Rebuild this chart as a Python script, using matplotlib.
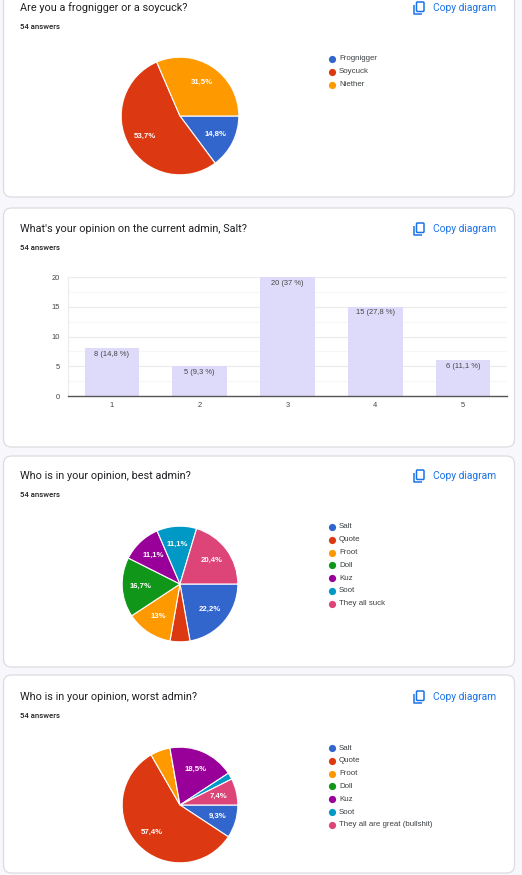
import matplotlib
matplotlib.use("Agg")
import matplotlib.pyplot as plt
from matplotlib.patches import FancyBboxPatch

plt.rcParams['font.family'] = ['Roboto', 'DejaVu Sans']
CHART_FONT = ['Liberation Sans', 'DejaVu Sans']

# --- data (54 answers per question) ---
q1_title = "Are you a frognigger or a soycuck?"
q1_labels = ["Frognigger", "Soycuck", "Niether"]
q1_counts = [8, 29, 17]

q2_title = "What's your opinion on the current admin, Salt?"
q2_scale = [1, 2, 3, 4, 5]
q2_counts = [8, 5, 20, 15, 6]

q3_title = "Who is in your opinion, best admin?"
q3_labels = ["Salt", "Quote", "Froot", "Doll", "Kuz", "Soot", "They all suck"]
q3_counts = [12, 3, 7, 9, 6, 6, 11]

q4_title = "Who is in your opinion, worst admin?"
q4_labels = ["Salt", "Quote", "Froot", "Doll", "Kuz", "Soot", "They all are great (bullshit)"]
q4_counts = [5, 31, 3, 0, 10, 1, 4]

n_answers = 54
gcolors = ['#3366cc', '#dc3912', '#ff9900', '#109618', '#990099', '#0099c6', '#dd4477']

W, H = 522, 875
fig = plt.figure(figsize=(W / 100, H / 100), dpi=100)
fig.patch.set_facecolor('#f8f8fc')

bg = fig.add_axes([0, 0, 1, 1])
bg.set_xlim(0, W)
bg.set_ylim(H, 0)
bg.axis('off')


def px_axes(x0, y0, w, h):
    return fig.add_axes([x0 / W, 1 - (y0 + h) / H, w / W, h / H])


def comma(v):
    s = f"{v:.1f}"
    if s.endswith('.0'):
        s = s[:-2]
    return s.replace('.', ',')


def card(top, bottom, title_y, title):
    bg.add_patch(FancyBboxPatch((3.5, top), 511, bottom - top,
                                boxstyle="round,pad=0,rounding_size=8",
                                facecolor='white', edgecolor='#dadce0', lw=0.9))
    bg.text(20, title_y, title, fontsize=7.85, color='#202124', va='center', ha='left')
    bg.text(20, title_y + 19, f"{n_answers} answers", fontsize=5.6, color='#202124',
            fontweight='medium', va='center', ha='left')
    # copy icon + link
    bg.add_patch(FancyBboxPatch((416.5, title_y - 6), 7.5, 9.5,
                                boxstyle="round,pad=0,rounding_size=1",
                                facecolor='none', edgecolor='#1a73e8', lw=1.1))
    bg.plot([414, 414, 421.5], [title_y - 3, title_y + 6, title_y + 6],
            color='#1a73e8', lw=1.1, solid_capstyle='butt')
    bg.text(433, title_y, "Copy diagram", fontsize=7.4, color='#1a73e8',
            va='center', ha='left')


def legend(x, y0, step, labels):
    for i, lab in enumerate(labels):
        bg.plot(x, y0 + i * step, 'o', ms=5.2, color=gcolors[i], mec='none')
        bg.text(x + 7, y0 + i * step, lab, fontsize=5.7, color='#3c4043',
                family=CHART_FONT, va='center', ha='left')


def pie(cx, cy, r, counts):
    ax = px_axes(cx - r, cy - r, 2 * r, 2 * r)
    ax.pie(counts, colors=gcolors[:len(counts)], startangle=0, counterclock=False,
           autopct=lambda p: comma(p) + '%' if p >= 7 else '', pctdistance=0.68,
           wedgeprops=dict(edgecolor='white', linewidth=0.8),
           textprops=dict(color='white', fontsize=5.6, fontweight='bold',
                          family=CHART_FONT))
    ax.set_xlim(-1.02, 1.02)
    ax.set_ylim(-1.02, 1.02)
    ax.set_aspect('equal')
    return ax


# card 1
card(-20, 197, 8, q1_title)
pie(180, 116, 60, q1_counts)
legend(332, 59, 12.8, q1_labels)

# card 2 (bar chart)
card(208, 447, 229, q2_title)
bax = px_axes(68, 277, 439, 119)
bars = bax.bar(q2_scale, q2_counts, width=0.62, color='#dedbfa', zorder=2)
for b, c in zip(bars, q2_counts):
    bax.text(b.get_x() + b.get_width() / 2, c - 0.45, f"{c} ({comma(c / n_answers * 100)} %)",
             ha='center', va='top', fontsize=5.4, color='#444444', family=CHART_FONT,
             zorder=3)
bax.set_xlim(0.5, 5.5)
bax.set_ylim(0, 20)
bax.set_yticks([0, 5, 10, 15, 20])
bax.set_yticks([2.5, 7.5, 12.5, 17.5], minor=True)
bax.set_xticks(q2_scale)
bax.grid(axis='y', which='major', color='#ebebeb', lw=0.8, zorder=0)
bax.grid(axis='y', which='minor', color='#f6f6f6', lw=0.8, zorder=0)
bax.tick_params(which='both', length=0, labelsize=5.4, labelcolor='#444444')
for lab in bax.get_xticklabels() + bax.get_yticklabels():
    lab.set_family(CHART_FONT)
bax.tick_params(axis='y', pad=6)
bax.tick_params(axis='x', pad=4)
for s in ['top', 'right']:
    bax.spines[s].set_visible(False)
bax.spines['left'].set_color('#ebebeb')
bax.spines['left'].set_linewidth(0.8)
bax.spines['bottom'].set_color('#555555')
bax.spines['bottom'].set_linewidth(1.0)
bax.spines['bottom'].set_zorder(4)

# card 3
card(456, 667, 476, q3_title)
pie(180, 584, 59, q3_counts)
legend(332, 527, 12.8, q3_labels)

# card 4
card(675, 873, 697, q4_title)
pie(180, 805, 59, q4_counts)
legend(332, 748, 12.8, q4_labels)

fig.savefig('out.png', dpi=100, facecolor=fig.get_facecolor())
